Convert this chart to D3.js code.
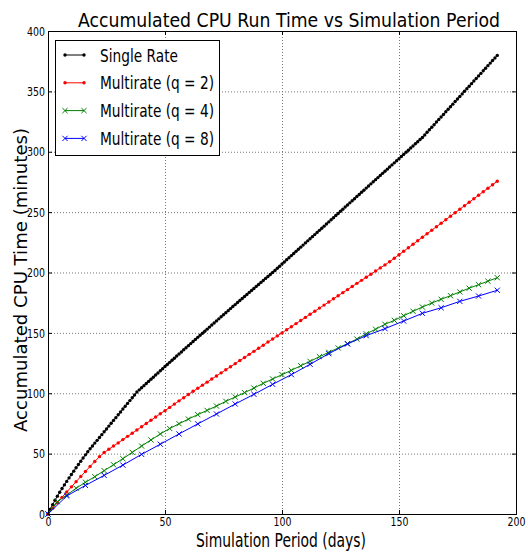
<!DOCTYPE html>
<html>
<head>
<meta charset="utf-8">
<script src="https://cdn.jsdelivr.net/npm/d3@7"></script>
<style>
  body { margin: 0; background: #fff; }
  text { font-family: "DejaVu Sans", sans-serif; }
</style>
</head>
<body>
<script>
// accumulated CPU time (minutes), one value per sample; q = sample step in days
const singleRate = [0,4.0,7.8,11.4,14.8,18.0,21.1,24.1,27.0,29.9,
  32.7,35.5,38.3,41.0,43.7,46.4,49.0,51.6,54.0,56.3,
  58.7,61.0,63.4,65.7,68.1,70.4,72.8,75.1,77.5,79.8,
  82.2,84.5,86.9,89.2,91.6,93.9,96.3,98.6,101.0,102.8,
  104.5,106.3,108.1,109.8,111.6,113.3,115.1,116.8,118.6,120.3,
  122.1,123.8,125.6,127.3,129.0,130.8,132.5,134.2,136.0,137.7,
  139.4,141.1,142.9,144.6,146.3,148.0,149.7,151.4,153.1,154.8,
  156.5,158.2,159.9,161.6,163.3,165.0,166.7,168.4,170.1,171.8,
  173.4,175.1,176.8,178.5,180.1,181.8,183.5,185.1,186.8,188.5,
  190.1,191.8,193.4,195.1,196.7,198.4,200.0,201.7,203.5,205.2,
  207.0,208.7,210.5,212.2,214.0,215.7,217.5,219.2,221.0,222.7,
  224.5,226.2,228.0,229.7,231.4,233.2,234.9,236.7,238.4,240.2,
  241.9,243.7,245.4,247.2,248.9,250.7,252.4,254.2,255.9,257.7,
  259.4,261.1,262.9,264.6,266.4,268.1,269.9,271.6,273.4,275.1,
  276.9,278.6,280.4,282.1,283.9,285.6,287.4,289.1,290.8,292.6,
  294.3,296.1,297.8,299.6,301.3,303.1,304.8,306.6,308.3,310.1,
  311.8,313.9,316.1,318.2,320.3,322.4,324.6,326.7,328.8,330.9,
  333.1,335.2,337.3,339.4,341.6,343.7,345.8,347.9,350.1,352.2,
  354.3,356.4,358.6,360.7,362.8,364.9,367.1,369.2,371.3,373.4,
  375.6,377.7,379.8];

const multirate2 = [0,4.8,9.4,13.8,18.2,22.5,26.8,31.0,35.2,39.4,
  43.5,47.5,50.9,53.6,56.3,58.9,61.6,64.3,66.9,69.6,
  72.3,75.0,77.6,80.3,83.0,85.6,88.3,91.0,93.7,96.3,
  99.0,101.6,104.1,106.7,109.2,111.8,114.3,116.9,119.4,122.0,
  124.5,127.1,129.6,132.2,134.7,137.3,139.8,142.4,144.9,147.5,
  150.0,152.6,155.1,157.7,160.2,162.8,165.4,167.9,170.5,173.0,
  175.6,178.2,180.7,183.3,185.8,188.4,191.0,193.5,196.1,198.6,
  201.2,203.8,206.3,208.9,211.8,214.7,217.6,220.5,223.4,226.3,
  229.2,232.1,235.0,237.9,240.8,243.7,246.6,249.5,252.4,255.3,
  258.2,261.1,264.0,266.9,269.8,272.7,275.6];

const multirate4 = [0,10.2,15.7,21.3,26.3,30.9,35.9,40.8,45.8,51.0,
  56.3,61.3,66.3,70.8,74.8,78.6,82.3,85.8,89.4,93.3,
  96.9,100.5,104.3,108.2,111.8,115.4,119.0,122.8,126.4,130.3,
  133.9,137.5,141.1,144.9,149.2,153.0,157.1,160.4,164.2,167.9,
  171.4,174.7,177.8,180.8,183.9,187.0,189.9,192.8,195.7];

const multirate8 = [0,14.9,23.7,32.0,40.5,49.4,57.8,66.3,74.6,82.8,
  91.1,99.1,107.4,115.4,124.0,132.8,140.8,147.7,153.5,159.8,
  166.2,170.8,176.1,180.5,185.3];

const seriesNames = ["Single Rate", "Multirate (q = 2)", "Multirate (q = 4)", "Multirate (q = 8)"];
const seriesSteps = [1, 2, 4, 8];
const xTicks = [0, 50, 100, 150, 200];
const yTicks = [0, 50, 100, 150, 200, 250, 300, 350, 400];

const colors = ["#000000", "#ff0000", "#008000", "#0000ff"];
const markers = ["dot", "dot", "x", "x"];

const series = [singleRate, multirate2, multirate4, multirate8].map((vals, i) => ({
    name: seriesNames[i],
    color: colors[i],
    marker: markers[i],
    points: vals.map((v, j) => ({ day: j * seriesSteps[i], v: v }))
}));

const W = 528, H = 554;
const svg = d3.select("body").append("svg")
    .attr("width", W)
    .attr("height", H);

const x = d3.scaleLinear().domain([0, 200]).range([48, 516]);
const y = d3.scaleLinear().domain([0, 400]).range([514, 31]);

// grid
const grid = svg.append("g").attr("stroke", "#777").attr("stroke-width", 1)
    .attr("stroke-dasharray", "1,2");
grid.selectAll(".gx").data(xTicks).enter().append("line")
    .attr("x1", d => x(d) + 0.5).attr("x2", d => x(d) + 0.5)
    .attr("y1", y(400)).attr("y2", y(0));
grid.selectAll(".gy").data(yTicks).enter().append("line")
    .attr("y1", d => y(d) + 0.5).attr("y2", d => y(d) + 0.5)
    .attr("x1", x(0)).attr("x2", x(200));

// lines + markers
const line = d3.line().x(d => x(d.day)).y(d => y(d.v));

series.forEach(s => {
    svg.append("path")
        .datum(s.points)
        .attr("fill", "none")
        .attr("stroke", s.color)
        .attr("stroke-width", 1)
        .attr("d", line);
    drawMarkers(svg, s.points.map(p => [x(p.day), y(p.v)]), s);
});

function drawMarkers(g, pts, s) {
    if (s.marker === "dot") {
        g.append("g").selectAll("circle").data(pts).enter().append("circle")
            .attr("cx", d => d[0]).attr("cy", d => d[1])
            .attr("r", 1.7)
            .attr("fill", s.color);
    } else {
        const r = 2.6;
        g.append("g").selectAll("path").data(pts).enter().append("path")
            .attr("d", d => `M${d[0]-r},${d[1]-r}L${d[0]+r},${d[1]+r}M${d[0]-r},${d[1]+r}L${d[0]+r},${d[1]-r}`)
            .attr("stroke", s.color)
            .attr("stroke-width", 1)
            .attr("fill", "none");
    }
}

// axes, ticks inside on all four sides
function styleTicks(g) {
    g.select(".domain").remove();
    g.selectAll("line").attr("stroke", "#000");
    g.selectAll("text")
        .attr("font-size", 13)
        .attr("fill", "#000")
        .attr("textLength", d => String(d).length * 6)
        .attr("lengthAdjust", "spacingAndGlyphs");
}

svg.append("g")
    .attr("transform", `translate(0,${y(0)})`)
    .call(d3.axisBottom(x).tickValues(xTicks).tickSize(-4).tickPadding(3))
    .call(styleTicks);
svg.append("g")
    .attr("transform", `translate(0,${y(400)})`)
    .call(d3.axisTop(x).tickValues(xTicks).tickSize(-4).tickFormat(""))
    .call(styleTicks);
svg.append("g")
    .attr("transform", `translate(${x(0)},0)`)
    .call(d3.axisLeft(y).tickValues(yTicks).tickSize(-4).tickPadding(3))
    .call(styleTicks);
svg.append("g")
    .attr("transform", `translate(${x(200)},0)`)
    .call(d3.axisRight(y).tickValues(yTicks).tickSize(-4).tickFormat(""))
    .call(styleTicks);

// frame
svg.append("rect")
    .attr("x", x(0) + 0.5).attr("y", y(400) + 0.5)
    .attr("width", x(200) - x(0)).attr("height", y(0) - y(400))
    .attr("fill", "none").attr("stroke", "#000").attr("stroke-width", 1);

// title and axis labels
svg.append("text")
    .attr("x", 78).attr("y", 27)
    .attr("font-size", 20)
    .attr("textLength", 422).attr("lengthAdjust", "spacingAndGlyphs")
    .text("Accumulated CPU Run Time vs Simulation Period");

svg.append("text")
    .attr("x", 196).attr("y", 547)
    .attr("font-size", 19)
    .attr("textLength", 170).attr("lengthAdjust", "spacingAndGlyphs")
    .text("Simulation Period (days)");

svg.append("text")
    .attr("transform", "translate(27,280) rotate(-90)")
    .attr("text-anchor", "middle")
    .attr("font-size", 18)
    .attr("textLength", 304).attr("lengthAdjust", "spacingAndGlyphs")
    .text("Accumulated CPU Time (minutes)");

// legend
const lg = svg.append("g");
lg.append("rect")
    .attr("x", 55.5).attr("y", 40.5).attr("width", 164).attr("height", 115)
    .attr("fill", "#fff").attr("stroke", "#000");
const legendWidths = [78, 114, 114, 114];
series.forEach((s, i) => {
    const cy = 55 + i * 27.8;
    lg.append("line")
        .attr("x1", 65).attr("x2", 84).attr("y1", cy).attr("y2", cy)
        .attr("stroke", s.color).attr("stroke-width", 1);
    drawMarkers(lg, [[65, cy], [84, cy]], s);
    lg.append("text")
        .attr("x", 100).attr("y", cy + 6.5)
        .attr("font-size", 18)
        .attr("textLength", legendWidths[i]).attr("lengthAdjust", "spacingAndGlyphs")
        .text(s.name);
});
</script>
</body>
</html>
